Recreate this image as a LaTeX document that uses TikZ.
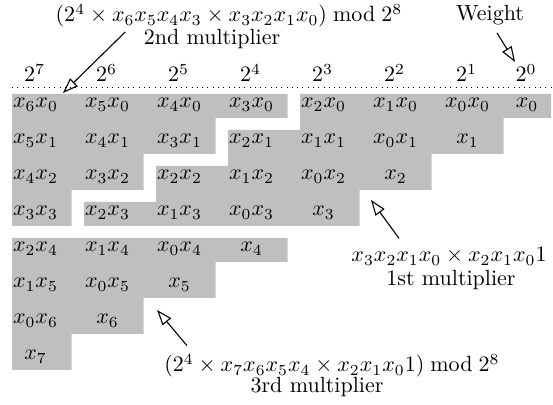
\documentclass[tikz,border=0pt]{standalone}
\usepackage{amsmath}
\usepackage{tikz}
\usetikzlibrary{arrows.meta}

\begin{document}
\begin{tikzpicture}[
  x=0.4545pt, y=-0.4545pt,
  cell/.style={anchor=base, inner sep=0pt},
  lbl/.style={anchor=base, inner sep=0pt},
  shade/.style={fill=black!25},
  arr/.style={-{Triangle[open, length=7pt, width=5pt]}, line width=0.5pt}
]
\useasboundingbox (0,0) rectangle (553,405);

% Shaded partial products (1st, 2nd and 3rd multiplier)
\fill[shade] (300,94) -- (551,94) -- (551,118) -- (503.5,118) -- (503.5,154) -- (431.5,154)
  -- (431.5,190) -- (359.5,190) -- (359.5,226) -- (84,226) -- (84,202) -- (156,202)
  -- (156,166) -- (228,166) -- (228,130) -- (300,130) -- cycle;
\fill[shade] (12,94) -- (287.5,94) -- (287.5,118) -- (215.5,118) -- (215.5,154) -- (143.5,154)
  -- (143.5,190) -- (71.5,190) -- (71.5,226) -- (12,226) -- cycle;
\fill[shade] (12,238) -- (287.5,238) -- (287.5,262) -- (215.5,262) -- (215.5,298) -- (143.5,298)
  -- (143.5,334) -- (71.5,334) -- (71.5,370) -- (12,370) -- cycle;

% Weights
\draw[dotted] (12,87) -- (553,87);
\foreach \w [count=\k from 0] in {7,6,5,4,3,2,1}
  \node[cell] (w\w) at ({34.5+72*\k},82) {$2^{\w}$};
\node[cell] (w0) at (526,82) {$2^0$};

% Partial products, row by row
\foreach \r/\terms in {
    0/{x_6x_0,x_5x_0,x_4x_0,x_3x_0,x_2x_0,x_1x_0,x_0x_0},
    1/{x_5x_1,x_4x_1,x_3x_1,x_2x_1,x_1x_1,x_0x_1,x_1},
    2/{x_4x_2,x_3x_2,x_2x_2,x_1x_2,x_0x_2,x_2},
    3/{x_3x_3,x_2x_3,x_1x_3,x_0x_3,x_3},
    4/{x_2x_4,x_1x_4,x_0x_4,x_4},
    5/{x_1x_5,x_0x_5,x_5},
    6/{x_0x_6,x_6},
    7/{x_7}}
  \foreach \t [count=\k from 0] in \terms
    \node[cell] (p\r\k) at ({35.5+72*\k},{108+36*\r}) {$\t$};
\node[cell] (p07) at (527,108) {$x_0$};

% Labels
\node[lbl] (mul2) at (229,22) {$(2^4\times x_6x_5x_4x_3\times x_3x_2x_1x_0)\bmod 2^8$};
\node[lbl] (mul2name) at (212,45) {2nd multiplier};
\node[lbl] (weight) at (490,21) {Weight};
\node[lbl] (mul1) at (449,262) {$x_3x_2x_1x_0\times x_2x_1x_01$};
\node[lbl] (mul1name) at (451,286) {1st multiplier};
\node[lbl] (mul3) at (332,372) {$(2^4\times x_7x_6x_5x_4\times x_2x_1x_01)\bmod 2^8$};
\node[lbl] (mul3name) at (317,393) {3rd multiplier};

% Arrow tips
\coordinate (tip2) at (63,93);
\coordinate (tipw) at (515,62);
\coordinate (tip1) at (371,200);
\coordinate (tip3) at (157,310);

% Arrows
\draw[arr] ([shift={(70,4)}]mul2.south west) -- (tip2);
\draw[arr] ([shift={(7,7)}]weight.south) -- (tipw);
\draw[arr] ([shift={(48,-9)}]mul1.north west) -- (tip1);
\draw[arr] ([shift={(23,-8)}]mul3.north west) -- (tip3);

\end{tikzpicture}
\end{document}
